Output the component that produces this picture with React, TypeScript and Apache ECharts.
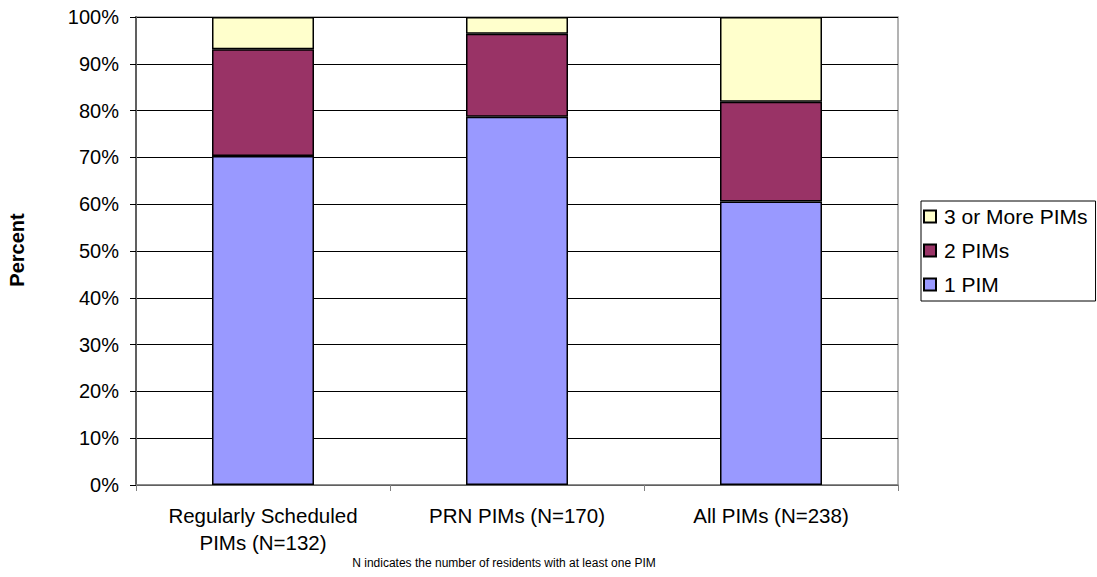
import React, { useEffect, useRef } from "react";
import * as echarts from "echarts";

const categories = ["Regularly Scheduled\nPIMs (N=132)", "PRN PIMs (N=170)", "All PIMs (N=238)"];
const onePim = [70.3, 78.7, 60.6];
const twoPims = [22.8, 17.7, 21.3];
const threePlus = [6.9, 3.6, 18.1];
const yTicks = { min: 0, max: 100, interval: 10 };
const seriesNames = ["1 PIM", "2 PIMs", "3 or More PIMs"];
const footnote = "N indicates the number of residents with at least one PIM";
const yTitle = "Percent";

const FONT = "'Liberation Sans', Arial, sans-serif";

export default function App() {
  const ref = useRef<HTMLDivElement>(null);
  useEffect(() => {
    document.body.style.margin = "0";
    const chart = echarts.init(ref.current!, undefined, { renderer: "svg" });
    const barStyle = (color: string) => ({ color, borderColor: "#000", borderWidth: 1.5 });
    chart.setOption({
      animation: false,
      backgroundColor: "#fff",
      textStyle: { fontFamily: FONT },
      grid: {
        left: 136,
        top: 17,
        right: 199,
        bottom: 92,
        show: true,
        borderColor: "#9a9a9a",
        borderWidth: 1.5,
        containLabel: false,
      },
      legend: {
        orient: "vertical",
        left: 921,
        top: 201,
        data: [seriesNames[2], seriesNames[1], seriesNames[0]],
        icon: "rect",
        itemWidth: 12,
        itemHeight: 12,
        itemGap: 13,
        padding: [5, 8, 6, 2],
        borderColor: "#000",
        borderWidth: 1,
        textStyle: { fontSize: 21, color: "#000", fontFamily: FONT, padding: [0, 0, 0, 3] },
      },
      xAxis: {
        type: "category",
        data: categories,
        axisLine: { lineStyle: { color: "#808080", width: 1.5 } },
        axisTick: { show: true, length: 6, lineStyle: { color: "#808080" } },
        axisLabel: { fontSize: 20.5, color: "#000", lineHeight: 27, margin: 17, fontFamily: FONT, interval: 0 },
        splitLine: { show: false },
      },
      yAxis: {
        type: "value",
        min: yTicks.min,
        max: yTicks.max,
        interval: yTicks.interval,
        axisLine: { show: true, lineStyle: { color: "#606060", width: 2 } },
        axisTick: { show: true, length: 6, lineStyle: { color: "#000" } },
        axisLabel: { formatter: "{value}%", fontSize: 20, color: "#000", margin: 17, fontFamily: FONT },
        splitLine: { show: true, lineStyle: { color: "#000", width: 1 } },
      },
      series: [
        { name: seriesNames[0], type: "bar", stack: "total", data: onePim, barWidth: 102, itemStyle: barStyle("#9999FF") },
        { name: seriesNames[1], type: "bar", stack: "total", data: twoPims, barWidth: 102, itemStyle: barStyle("#993366") },
        { name: seriesNames[2], type: "bar", stack: "total", data: threePlus, barWidth: 102, itemStyle: barStyle("#FFFFCC") },
      ],
      graphic: [
        {
          type: "text",
          x: 17,
          y: 250,
          rotation: Math.PI / 2,
          style: { text: yTitle, fontSize: 20, fontWeight: "bold", fill: "#000", textAlign: "center", textVerticalAlign: "middle", fontFamily: FONT },
        },
        {
          type: "text",
          x: 504,
          y: 563,
          style: { text: footnote, fontSize: 12, fill: "#000", textAlign: "center", textVerticalAlign: "middle", fontFamily: FONT },
        },
      ],
    });
    return () => chart.dispose();
  }, []);
  return <div ref={ref} style={{ width: 1097, height: 577 }} />;
}
